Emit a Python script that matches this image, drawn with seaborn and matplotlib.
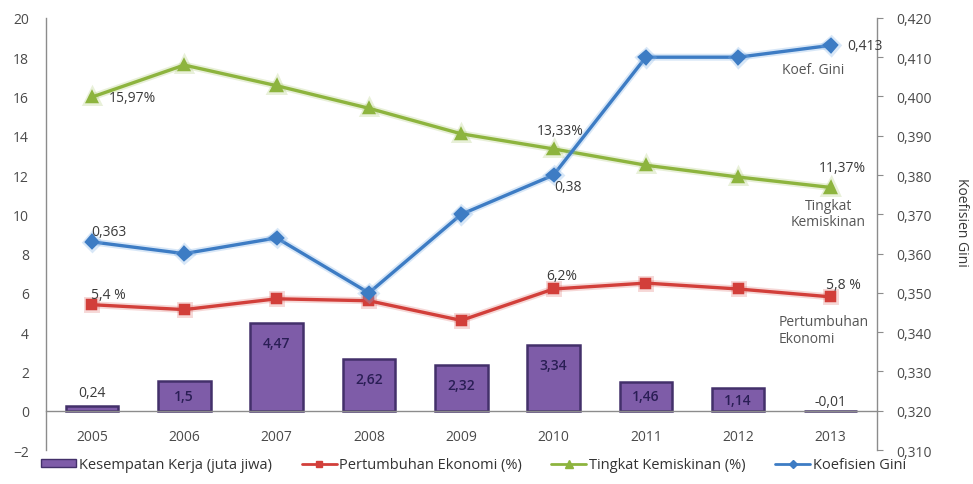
import matplotlib
matplotlib.use("Agg")
import matplotlib.pyplot as plt
import matplotlib.patheffects as pe
from matplotlib.patches import Patch
from matplotlib.lines import Line2D
from matplotlib.ticker import FuncFormatter, MultipleLocator
import seaborn as sns
import pandas as pd

# ---- data -------------------------------------------------------------
years = ["2005", "2006", "2007", "2008", "2009", "2010", "2011", "2012", "2013"]
kesempatan_kerja = [0.24, 1.5, 4.47, 2.62, 2.32, 3.34, 1.46, 1.14, -0.01]   # juta jiwa
pertumbuhan_ekonomi = [5.4, 5.15, 5.7, 5.6, 4.6, 6.2, 6.5, 6.2, 5.8]       # %
tingkat_kemiskinan = [15.97, 17.6, 16.55, 15.4, 14.1, 13.33, 12.5, 11.9, 11.37]  # %
koefisien_gini = [0.363, 0.360, 0.364, 0.350, 0.370, 0.380, 0.410, 0.410, 0.413]

legend_labels = ["Kesempatan Kerja (juta jiwa)", "Pertumbuhan Ekonomi (%)",
                 "Tingkat Kemiskinan (%)", "Koefisien Gini"]

df = pd.DataFrame({
    "tahun": years,
    "kerja": kesempatan_kerja,
    "ekonomi": pertumbuhan_ekonomi,
    "miskin": tingkat_kemiskinan,
    "gini": koefisien_gini,
})

# ---- style ------------------------------------------------------------
sns.set_theme(style="white")
plt.rcParams["font.family"] = ["Open Sans", "DejaVu Sans"]
plt.rcParams["font.size"] = 10

C_BAR = "#7E5CA8"
C_BAR_EDGE = "#43306A"
C_RED = "#D23F3A"
C_GREEN = "#8DB43E"
C_BLUE = "#3D7CC4"
C_TEXT = "#3A3A3A"
C_TICK = "#4A4A4A"
C_SPINE = "#8C8C8C"

fig = plt.figure(figsize=(9.73, 4.85), dpi=100)
ax = fig.add_axes([0.047, 0.070, 0.854, 0.891])

# bars: employment opportunities
sns.barplot(data=df, x="tahun", y="kerja", color=C_BAR, width=0.57,
            edgecolor=C_BAR_EDGE, linewidth=1.8, saturation=1, ax=ax)

def glow(color, alpha=0.25):
    return [pe.Stroke(linewidth=5.0, foreground=color, alpha=alpha), pe.Normal()]

# poverty rate and economic growth on the left axis
sns.pointplot(data=df, x="tahun", y="miskin", color=C_GREEN, markers="^",
              linestyles="-", linewidth=2.4, markersize=7.5, ax=ax)
sns.pointplot(data=df, x="tahun", y="ekonomi", color=C_RED, markers="s",
              linestyles="-", linewidth=2.4, markersize=6.5, ax=ax)
for ln in ax.lines:
    ln.set_path_effects(glow(ln.get_color(), 0.2))

# Gini coefficient on the right axis
ax2 = ax.twinx()
sns.pointplot(data=df, x="tahun", y="gini", color=C_BLUE, markers="D",
              linestyles="-", linewidth=2.4, markersize=6.5, ax=ax2)
for ln in ax2.lines:
    ln.set_path_effects(glow("#7FB0E6", 0.3))

# ---- axes -------------------------------------------------------------
ax.set_xlim(-0.5, len(years) - 0.5)
ax.set_ylim(-2, 20)
ax.yaxis.set_major_locator(MultipleLocator(2))
ax2.set_ylim(0.310, 0.420)
ax2.yaxis.set_major_locator(MultipleLocator(0.01))
ax2.yaxis.set_major_formatter(FuncFormatter(lambda v, p: f"{v:.3f}".replace(".", ",")))

ax.set_xlabel("")
ax.set_ylabel("")
ax2.set_ylabel("")
fig.text(962 / 973, 1 - 222 / 485, "Koefisien Gini", rotation=270, ha="center",
         va="center", color=C_TEXT, fontsize=10)

for s in ("top", "right"):
    ax.spines[s].set_visible(False)
ax.spines["bottom"].set_position(("data", 0))
for s in ("top", "bottom", "left"):
    ax2.spines[s].set_visible(False)
for a in (ax, ax2):
    for s in a.spines.values():
        s.set_color(C_SPINE)
        s.set_linewidth(1.0)

ax.tick_params(axis="x", length=0, pad=13, labelsize=10, labelcolor=C_TICK)
ax.tick_params(axis="y", length=0, pad=12, labelsize=10, labelcolor=C_TICK)
ax2.tick_params(axis="y", length=4, width=0.8, color=C_SPINE, pad=10,
                labelsize=10, labelcolor=C_TICK)

# ---- value labels -------------------------------------------------------
def fmt(v, nd):
    return f"{v:.{nd}f}".replace(".", ",")

for i, v in enumerate(kesempatan_kerja):
    txt = fmt(v, 2) if i != 1 else fmt(v, 1)
    if v < 0.5:
        ax.annotate(txt, (i, max(v, 0)), xytext=(0, 14 if v > 0 else 9),
                    textcoords="offset pixels", ha="center", va="center",
                    color=C_TEXT, fontsize=10)
    else:
        y = v - 1.0 if v > 2 else v / 2
        ax.text(i, y, txt, ha="center", va="center", color="#2A1E55",
                fontsize=10, fontweight="semibold")

def note(axis, i, values, text, dx, dy, ha="center", color=C_TEXT):
    axis.annotate(text, (i, values[i]), xytext=(dx, dy), textcoords="offset pixels",
                  ha=ha, va="center", color=color, fontsize=10, linespacing=1.15)

note(ax, 0, tingkat_kemiskinan, fmt(tingkat_kemiskinan[0], 2) + "%", 17, 0, ha="left")
note(ax, 5, tingkat_kemiskinan, fmt(tingkat_kemiskinan[5], 2) + "%", 7, 18)
note(ax, 8, tingkat_kemiskinan, fmt(tingkat_kemiskinan[8], 2) + "%", 12, 20)
note(ax, 8, tingkat_kemiskinan, "Tingkat\nKemiskinan", -2, -26, color="#555555")

note(ax, 0, pertumbuhan_ekonomi, fmt(pertumbuhan_ekonomi[0], 1) + " %", -1, 10, ha="left")
note(ax, 5, pertumbuhan_ekonomi, fmt(pertumbuhan_ekonomi[5], 1) + "%", 8, 13)
note(ax, 8, pertumbuhan_ekonomi, fmt(pertumbuhan_ekonomi[8], 1) + " %", 13, 12)
ax.annotate("Pertumbuhan\nEkonomi", (8, pertumbuhan_ekonomi[8]), xytext=(-52, -33),
            textcoords="offset pixels", ha="left", va="center", color="#555555",
            fontsize=10, linespacing=1.15, multialignment="left")

note(ax2, 0, koefisien_gini, fmt(koefisien_gini[0], 3), -1, 10, ha="left")
note(ax2, 5, koefisien_gini, fmt(koefisien_gini[5], 2), 14, -11)
note(ax2, 8, koefisien_gini, fmt(koefisien_gini[8], 3), 17, 0, ha="left")
note(ax2, 8, koefisien_gini, "Koef. Gini", -17, -24, color="#555555")

# ---- legend -------------------------------------------------------------
handles = [
    Patch(facecolor=C_BAR, edgecolor=C_BAR_EDGE, linewidth=1.0),
    Line2D([], [], color=C_RED, marker="s", markersize=5, linewidth=2),
    Line2D([], [], color=C_GREEN, marker="^", markersize=5.5, linewidth=2),
    Line2D([], [], color=C_BLUE, marker="D", markersize=4.5, linewidth=2),
]
fig.legend(handles, legend_labels, loc="center", bbox_to_anchor=(0.487, 1 - 466 / 485),
           ncol=4, frameon=False, fontsize=10.5, handlelength=2.4, handleheight=0.5,
           handletextpad=0.2, columnspacing=2.0, labelcolor="#333333")

fig.savefig("out.png", dpi=100)
